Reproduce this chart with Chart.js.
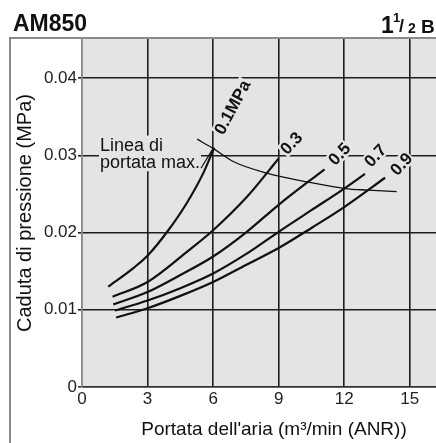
<!DOCTYPE html>
<html>
<head>
<meta charset="utf-8">
<script src="https://cdn.jsdelivr.net/npm/chart.js@4/dist/chart.umd.min.js"></script>
<style>
  html, body { margin: 0; padding: 0; background: #fff; }
  #wrap { width: 436px; height: 443px; }
</style>
</head>
<body>
<div id="wrap"><canvas id="grafico" width="436" height="443"></canvas></div>
<script>
const FONT = '"Liberation Sans", Arial, Helvetica, sans-serif';

// Assi
const xTicks = [0, 3, 6, 9, 12, 15];
const yTicks = [0, 0.01, 0.02, 0.03, 0.04];
const yTickLabels = ['0', '0.01', '0.02', '0.03', '0.04'];

// Curve di caduta di pressione (una per pressione)
const pressioni = ['0.1MPa', '0.3', '0.5', '0.7', '0.9'];
const portata01 = [1.2, 2.35, 3.03, 3.95, 4.79, 5.55, 6.05];
const caduta01 = [0.0130, 0.0154, 0.0171, 0.0203, 0.0238, 0.0277, 0.0310];
const portata03 = [1.4, 3, 4.8, 6, 7.54, 9];
const caduta03 = [0.0117, 0.0136, 0.0175, 0.0203, 0.0246, 0.0296];
const portata05 = [1.43, 3, 4.5, 6, 7.5, 9, 11.1];
const caduta05 = [0.0107, 0.0123, 0.0145, 0.0169, 0.0200, 0.0236, 0.0282];
const portata07 = [1.51, 3, 4.5, 6, 7.5, 9, 10.5, 12, 12.95];
const caduta07 = [0.0099, 0.0112, 0.0128, 0.0147, 0.0172, 0.0201, 0.0229, 0.0257, 0.0276];
const portata09 = [1.56, 3, 4.5, 6, 7.5, 9, 10.5, 12, 13.87];
const caduta09 = [0.0090, 0.0102, 0.0118, 0.0136, 0.0158, 0.0180, 0.0206, 0.0233, 0.0271];

// Linea di portata max.
const portataMax = [5.27, 6, 6.92, 8.45, 10.43, 12.04, 13.1, 14.4];
const cadutaMax = [0.0321, 0.0309, 0.0292, 0.0277, 0.0265, 0.0257, 0.0255, 0.0253];

const serie = [
  [portata01, caduta01], [portata03, caduta03], [portata05, caduta05],
  [portata07, caduta07], [portata09, caduta09]
];

function punti(xs, ys) {
  return xs.map((x, i) => ({ x: x, y: ys[i] }));
}

const datasets = serie.map((s, i) => ({
  label: pressioni[i],
  data: punti(s[0], s[1]),
  borderColor: '#111',
  borderWidth: 2.2,
  pointRadius: 0,
  showLine: true,
  cubicInterpolationMode: 'monotone'
}));
datasets.push({
  label: 'Linea di portata max.',
  data: punti(portataMax, cadutaMax),
  borderColor: '#111',
  borderWidth: 1.3,
  pointRadius: 0,
  showLine: true,
  cubicInterpolationMode: 'monotone'
});

const SFONDO = '#e4e4e4';

// Testo ruotato con fondo grigio (copre la griglia)
function etichetta(ctx, testo, x, y, gradi, font) {
  ctx.save();
  ctx.translate(x, y);
  ctx.rotate(gradi * Math.PI / 180);
  ctx.font = font;
  const w = ctx.measureText(testo).width;
  ctx.fillStyle = SFONDO;
  ctx.fillRect(-w / 2 - 1, -8, w + 2, 16);
  ctx.fillStyle = '#111';
  ctx.textAlign = 'center';
  ctx.textBaseline = 'middle';
  ctx.fillText(testo, 0, 1);
  ctx.restore();
}

const decorazioni = {
  id: 'decorazioni',
  beforeDraw(chart) {
    const { ctx, chartArea: a } = chart;
    ctx.save();
    ctx.fillStyle = '#fff';
    ctx.fillRect(0, 0, chart.width, chart.height);
    ctx.fillStyle = SFONDO;
    ctx.fillRect(a.left, a.top, a.right - a.left, a.bottom - a.top);
    ctx.restore();
  },
  beforeDatasetsDraw(chart) {
    const { ctx } = chart;
    const sx = chart.scales.x, sy = chart.scales.y;
    const px = v => sx.getPixelForValue(v);
    const py = v => sy.getPixelForValue(v);
    const fontB = 'bold 17px ' + FONT;

    // etichette delle curve
    etichetta(ctx, pressioni[0], px(6.87), py(0.03625), -62, fontB);
    etichetta(ctx, pressioni[1], px(9.57), py(0.0316), -47, fontB);
    etichetta(ctx, pressioni[2], px(11.77), py(0.0302), -47, fontB);
    etichetta(ctx, pressioni[3], px(13.42), py(0.0300), -47, fontB);
    etichetta(ctx, pressioni[4], px(14.61), py(0.0289), -47, fontB);

    // Linea di portata max.
    ctx.save();
    ctx.font = '18px ' + FONT;
    ctx.textBaseline = 'middle';
    const righe = ['Linea di', 'portata max.'];
    const yy = [py(0.0314), py(0.0291)];
    let fine = 0;
    righe.forEach((r, i) => {
      const w = ctx.measureText(r).width;
      ctx.fillStyle = SFONDO;
      ctx.fillRect(px(0.82) - 1, yy[i] - 9, w + 2, 18);
      ctx.fillStyle = '#111';
      ctx.fillText(r, px(0.82), yy[i] + 1);
      fine = px(0.82) + w;
    });
    // richiamo verso l'incrocio
    ctx.strokeStyle = '#111';
    ctx.lineWidth = 1.2;
    ctx.beginPath();
    ctx.moveTo(fine + 1, yy[1] + 6);
    ctx.lineTo(px(6), py(0.0309));
    ctx.stroke();
    ctx.restore();
  },
  afterDraw(chart) {
    const { ctx, chartArea: a } = chart;
    ctx.save();
    // cornice
    ctx.strokeStyle = '#8a8a8a';
    ctx.lineWidth = 2;
    ctx.beginPath();
    ctx.moveTo(10, chart.height);
    ctx.lineTo(10, a.top);
    ctx.lineTo(chart.width, a.top);
    ctx.stroke();

    ctx.fillStyle = '#111';
    ctx.textBaseline = 'alphabetic';
    ctx.font = 'bold 23px ' + FONT;
    ctx.fillText('AM850', 13, 31);

    // 1 1/2 B
    ctx.fillText('1', 381, 33);
    ctx.font = 'bold 13px ' + FONT;
    ctx.fillText('1', 393, 22);
    ctx.font = 'bold 18px ' + FONT;
    ctx.fillText('/', 399, 32);
    ctx.font = 'bold 14px ' + FONT;
    ctx.fillText('2', 408, 33);
    ctx.font = 'bold 19px ' + FONT;
    ctx.fillText('B', 421, 33);

    // titoli degli assi
    ctx.font = '19px ' + FONT;
    ctx.textAlign = 'center';
    ctx.textBaseline = 'middle';
    ctx.fillText('Portata dell\'aria (m³/min (ANR))', 274, 430);
    ctx.font = '20px ' + FONT;
    ctx.translate(25, 213);
    ctx.rotate(-Math.PI / 2);
    ctx.fillText('Caduta di pressione (MPa)', 0, 0);
    ctx.restore();
  }
};

new Chart(document.getElementById('grafico'), {
  type: 'scatter',
  data: { datasets: datasets },
  plugins: [decorazioni],
  options: {
    responsive: false,
    animation: false,
    layout: { padding: { top: 38, right: 0, left: 0, bottom: 0 } },
    plugins: { legend: { display: false }, tooltip: { enabled: false } },
    scales: {
      x: {
        type: 'linear',
        min: 0,
        max: 16.2,
        afterBuildTicks: s => { s.ticks = xTicks.map(v => ({ value: v })); },
        afterFit: s => { s.height = 56; },
        grid: {
          color: c => (c.tick && c.tick.value === 0) ? '#888' : '#1e1e1e',
          lineWidth: 1.6,
          drawTicks: false
        },
        border: { color: '#333', width: 1.6 },
        ticks: { color: '#222', padding: 2, maxRotation: 0, font: { family: FONT, size: 17 } }
      },
      y: {
        type: 'linear',
        min: 0,
        max: 0.0452,
        afterBuildTicks: s => { s.ticks = yTicks.map(v => ({ value: v })); },
        afterFit: s => { s.width = 82; },
        grid: {
          color: c => (c.tick && c.tick.value === 0) ? '#333' : '#1e1e1e',
          lineWidth: 1.6,
          tickLength: 4
        },
        border: { color: '#888', width: 1.6 },
        ticks: {
          color: '#222',
          padding: 1,
          font: { family: FONT, size: 17 },
          callback: (v, i) => yTickLabels[i]
        }
      }
    }
  }
});
</script>
</body>
</html>
